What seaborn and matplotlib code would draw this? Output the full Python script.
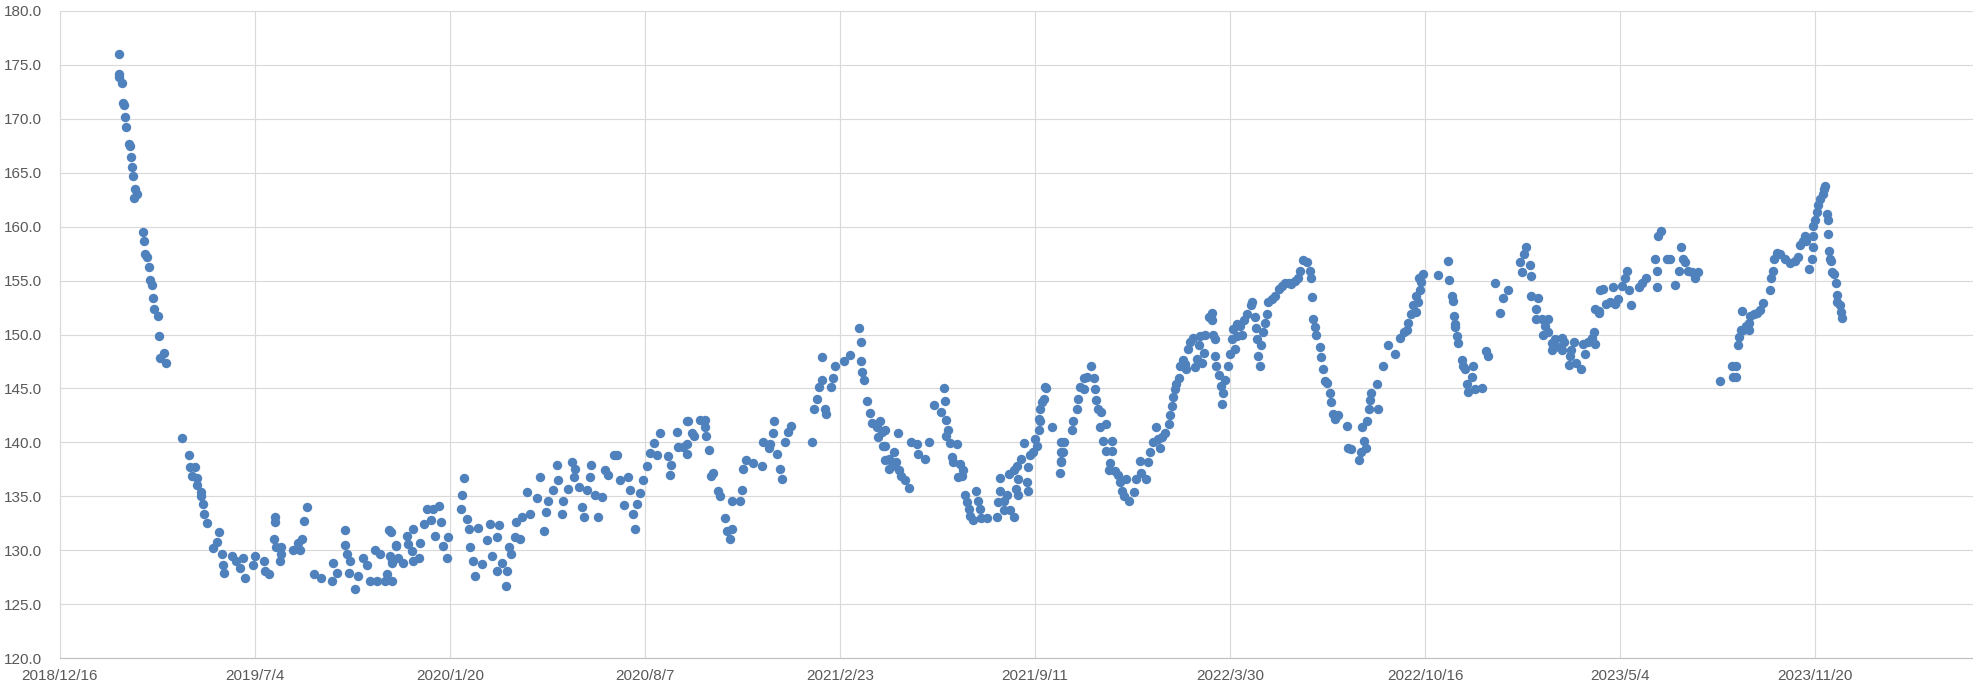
import matplotlib
matplotlib.use("Agg")
import matplotlib.pyplot as plt
import numpy as np
import pandas as pd
import seaborn as sns

START = pd.Timestamp("2018-12-16")

# x = days after 2018/12/16, y = value
days_2019a = [60, 61, 60, 64, 65, 66, 67, 68, 71, 72, 73, 74, 75, 77, 79, 76,
              85, 86, 87, 89, 91, 92, 94, 95, 96, 100, 102, 107, 103, 109]
vals_2019a = [176.0, 174.2, 173.9, 173.3, 171.5, 171.3, 170.2, 169.2, 167.7, 167.5,
              166.5, 165.5, 164.7, 163.5, 163.0, 162.7, 159.5, 158.7, 157.5, 157.2,
              156.3, 155.1, 154.6, 153.4, 152.4, 151.7, 149.9, 148.3, 147.8, 147.4]

days_2019b = [125, 132, 133, 138, 135, 140, 140, 145, 145, 147, 148, 151, 163, 161,
              157, 166, 167, 168, 176, 180, 188, 185, 190, 200, 198, 209, 210, 214,
              219, 221, 220, 222, 227, 226, 227, 239, 244, 248, 250, 253, 246, 260,
              268, 280, 279, 284, 292, 292, 294, 297, 296, 303, 306, 311, 315, 318,
              323, 328, 325, 333, 337, 338, 340, 335, 345, 347]
vals_2019b = [140.4, 138.8, 137.7, 137.7, 136.9, 136.7, 136.0, 135.4, 135.0, 134.3,
              133.4, 132.5, 131.7, 130.8, 130.2, 129.6, 128.6, 127.9, 129.5, 129.0,
              129.3, 128.3, 127.4, 129.5, 128.6, 129.0, 128.1, 127.8, 131.0, 133.1,
              132.6, 130.3, 130.3, 129.0, 129.6, 130.0, 130.7, 131.0, 132.7, 134.0,
              130.0, 127.8, 127.4, 128.8, 127.1, 127.9, 131.9, 130.5, 129.6, 129.0,
              127.9, 126.4, 127.6, 129.3, 128.6, 127.1, 130.0, 129.6, 127.1, 127.1,
              131.9, 129.5, 129.0, 127.8, 130.5, 129.3]

days_2020 = [339, 340, 340, 345, 352, 356, 357, 361, 362, 362, 368, 369, 373, 376,
             380, 383, 385, 389, 391, 393, 397, 398, 414, 412, 411, 417, 419, 421,
             426, 424, 429, 433, 438, 441, 443, 448, 450, 448, 453, 457, 458, 460,
             463, 467, 468, 472, 474, 479, 482, 489, 492, 496, 498, 501, 506, 510,
             511, 515, 516, 521, 525, 527, 528, 532, 535, 537, 540, 544, 545, 549,
             552, 556, 559, 562, 568, 571, 574, 578, 583, 585, 588, 590, 592, 595,
             598, 602, 605, 609, 615, 612, 626, 624, 627, 633, 634, 639, 643]
vals_2020 = [131.7, 128.8, 127.1, 130.4, 128.8, 131.3, 130.6, 129.9, 132.0, 129.0,
             129.3, 130.7, 132.4, 133.8, 132.8, 133.8, 131.3, 134.1, 132.6, 130.4,
             129.3, 131.2, 136.7, 135.1, 133.8, 132.9, 132.0, 130.3, 127.6, 129.0,
             132.1, 128.7, 130.9, 132.4, 129.5, 131.2, 132.3, 128.1, 128.8, 126.7,
             128.1, 130.3, 129.6, 131.2, 132.6, 131.0, 133.1, 135.4, 133.4, 134.8,
             136.8, 131.8, 133.5, 134.6, 135.6, 137.9, 136.5, 133.4, 134.6, 135.7,
             138.2, 136.8, 137.5, 135.9, 134.0, 133.1, 135.6, 136.8, 137.9, 135.1,
             133.1, 134.9, 137.4, 137.0, 138.8, 138.8, 136.5, 134.2, 136.8, 135.6,
             133.4, 132.0, 134.3, 135.3, 136.5, 137.8, 139.0, 139.9, 140.9, 138.8,
             137.0, 138.7, 137.9, 141.0, 139.6, 139.6, 142.0]

days_2021a = [644, 643, 643, 648, 650, 656, 662, 662, 663, 666, 668, 670, 675, 677,
              682, 684, 687, 689, 689, 697, 699, 700, 704, 711, 720, 721, 728, 727,
              732, 731, 735, 738, 740, 744, 747, 750, 771, 773, 776, 778, 781, 781,
              785, 786, 791, 793, 795, 804, 810, 819, 821, 822, 823, 825, 828, 831,
              833, 838, 841, 843, 839, 844, 846, 850]
vals_2021a = [142.0, 139.8, 138.9, 140.9, 140.6, 142.1, 142.1, 141.4, 140.6, 139.3,
              136.9, 137.2, 135.5, 135.0, 133.0, 131.8, 131.0, 132.0, 134.6, 134.6,
              135.6, 137.5, 138.4, 138.1, 137.8, 140.0, 139.8, 139.5, 142.0, 140.9,
              138.9, 137.5, 136.6, 140.0, 141.0, 141.5, 140.0, 143.1, 144.0, 145.1,
              145.8, 147.9, 143.1, 142.6, 145.1, 146.0, 147.1, 147.5, 148.1, 150.6,
              149.3, 147.5, 146.5, 145.8, 143.8, 142.7, 141.8, 141.4, 142.0, 141.0,
              140.5, 139.7, 138.4, 137.5]

days_2021b = [846, 846, 850, 853, 855, 857, 860, 863, 867, 871, 859, 873, 879, 880,
              887, 891, 896, 904, 907, 908, 909, 911, 909, 913, 920, 915, 916, 923,
              926, 925, 921, 928, 930, 932, 933, 936, 939, 941, 944, 945, 951, 961,
              962, 964, 964, 968, 968, 971, 973, 974, 978, 978, 980, 981, 983, 983,
              986, 989, 992, 993, 993, 995, 998, 1000, 1002, 1004, 1004, 1005, 1005,
              1007, 1009, 1010, 1011, 1017, 1027, 1027, 1027, 1026]
vals_2021b = [141.1, 139.7, 138.5, 137.8, 139.1, 138.2, 137.4, 136.9, 136.5, 135.8,
              140.9, 140.0, 139.8, 138.9, 138.5, 140.0, 143.5, 142.8, 145.0, 143.8,
              142.1, 141.1, 140.6, 139.9, 139.8, 138.6, 138.2, 138.0, 137.4, 136.9,
              136.8, 135.1, 134.5, 133.8, 133.2, 132.8, 135.5, 134.6, 133.8, 133.0,
              133.0, 133.1, 134.5, 135.5, 136.7, 134.6, 133.7, 135.1, 137.1, 133.7,
              133.1, 137.4, 135.7, 137.8, 136.6, 135.1, 138.5, 139.9, 136.3, 135.5,
              137.7, 138.8, 139.1, 140.3, 139.7, 141.1, 142.2, 142.0, 143.1, 143.7,
              144.0, 145.1, 145.0, 141.4, 140.0, 139.1, 138.2, 137.2]

days_2022a = [1027, 1029, 1030, 1038, 1039, 1043, 1044, 1046, 1050, 1050, 1053, 1057,
              1060, 1061, 1063, 1065, 1068, 1067, 1073, 1070, 1079, 1079, 1073, 1077,
              1076, 1082, 1085, 1087, 1089, 1091, 1093, 1096, 1102, 1104, 1108, 1109,
              1114, 1116, 1118, 1121, 1124, 1126, 1128, 1130, 1133, 1137, 1138, 1140,
              1142, 1144, 1145, 1148, 1149, 1152, 1154, 1155, 1157, 1159, 1162, 1164,
              1166, 1168, 1169, 1171, 1173, 1174, 1178, 1181, 1182, 1183, 1185, 1185,
              1186, 1189, 1191, 1193, 1192, 1195, 1198, 1200, 1202, 1203, 1207]
vals_2022a = [138.3, 139.1, 140.0, 141.1, 142.0, 143.1, 144.0, 145.1, 144.9, 146.0,
              146.1, 147.1, 146.0, 144.9, 143.9, 143.1, 142.8, 141.4, 141.7, 140.1,
              140.1, 139.2, 139.2, 138.1, 137.4, 137.3, 137.0, 136.3, 135.5, 135.0,
              136.6, 134.6, 135.4, 136.6, 138.3, 137.2, 136.6, 138.2, 139.1, 140.0,
              141.4, 140.3, 139.5, 140.5, 140.9, 141.7, 142.5, 143.4, 144.2, 144.9,
              145.4, 146.0, 147.1, 147.6, 147.3, 146.8, 148.7, 149.3, 149.7, 147.0,
              147.7, 149.0, 149.9, 147.4, 148.3, 150.0, 151.6, 152.0, 151.3, 150.0,
              149.6, 148.0, 147.1, 146.2, 145.2, 144.6, 143.6, 145.8, 147.1, 148.2,
              149.6, 150.5, 151.0]

days_2022b = [1205, 1207, 1210, 1214, 1212, 1217, 1221, 1223, 1226, 1227, 1228, 1229,
              1231, 1232, 1234, 1236, 1238, 1239, 1243, 1246, 1250, 1253, 1256, 1260,
              1263, 1267, 1270, 1272, 1275, 1279, 1282, 1283, 1284, 1285, 1287, 1288,
              1292, 1293, 1295, 1297, 1299, 1303, 1304, 1306, 1308, 1311, 1320, 1321,
              1324, 1332, 1334, 1337, 1339, 1335, 1340, 1342, 1344, 1345, 1352, 1351,
              1357, 1362, 1369, 1374, 1378, 1381, 1383, 1386, 1388, 1391, 1394]
vals_2022b = [148.7, 149.9, 150.8, 151.3, 150.0, 151.9, 152.7, 153.0, 151.6, 150.6,
              149.6, 148.0, 147.1, 149.0, 150.2, 151.1, 151.9, 153.0, 153.3, 153.6,
              154.2, 154.5, 154.8, 154.8, 154.7, 155.0, 155.2, 155.9, 156.9, 156.7,
              155.9, 155.2, 153.5, 151.4, 150.7, 150.0, 148.8, 147.9, 146.8, 145.7,
              145.5, 144.6, 143.7, 142.6, 142.2, 142.5, 141.5, 139.5, 139.4, 138.4,
              139.1, 140.1, 139.5, 141.4, 142.0, 143.1, 143.9, 144.6, 143.1, 145.4,
              147.1, 149.0, 148.2, 149.7, 150.2, 150.4, 151.1, 151.9, 152.7, 153.6,
              155.2]

days_2023a = [1391, 1393, 1395, 1396, 1398, 1413, 1424, 1425, 1428, 1429, 1430, 1431,
              1431, 1433, 1434, 1438, 1439, 1441, 1443, 1444, 1449, 1448, 1451, 1458,
              1463, 1465, 1472, 1477, 1480, 1485, 1497, 1499, 1501, 1504, 1508, 1509,
              1509, 1516, 1514, 1514, 1520, 1523, 1526, 1521, 1526, 1530, 1533, 1537,
              1540, 1542, 1540, 1530, 1549, 1550, 1553, 1548, 1555, 1560, 1562, 1564,
              1567, 1571, 1573, 1574, 1578, 1579]
vals_2023a = [152.1, 153.0, 154.1, 154.9, 155.6, 155.5, 156.8, 155.1, 153.6, 153.1,
              151.7, 151.0, 150.7, 149.9, 149.2, 147.6, 147.1, 146.8, 145.4, 144.7,
              147.1, 146.1, 144.9, 145.0, 148.5, 148.0, 154.8, 152.0, 153.4, 154.1,
              156.7, 155.8, 157.5, 158.1, 156.4, 155.4, 153.6, 153.4, 152.4, 151.4,
              151.4, 150.8, 151.4, 150.0, 150.2, 149.2, 149.6, 148.8, 149.7, 149.3,
              148.6, 148.6, 148.0, 148.6, 149.3, 147.2, 147.4, 146.8, 149.1, 148.2,
              149.3, 149.7, 150.2, 152.4, 152.2, 154.1]

days_2023b = [1574, 1578, 1583, 1586, 1590, 1593, 1595, 1598, 1602, 1605, 1607, 1609,
              1611, 1619, 1622, 1627, 1638, 1636, 1638, 1639, 1642, 1648, 1651, 1656,
              1660, 1663, 1665, 1667, 1670, 1674, 1677, 1680]
vals_2023b = [149.1, 152.0, 154.2, 152.8, 153.0, 154.4, 152.8, 153.3, 154.5, 155.2,
              155.9, 154.1, 152.7, 154.4, 154.8, 155.2, 154.4, 157.0, 155.9, 159.1,
              159.6, 157.0, 157.0, 154.6, 155.9, 158.1, 157.0, 156.7, 155.9, 155.8,
              155.2, 155.8]

days_2023c = [1703, 1715, 1719, 1716, 1719, 1721, 1722, 1725, 1724, 1726, 1729, 1732,
              1732, 1733, 1737, 1740, 1744, 1747, 1754, 1755, 1757, 1758, 1761, 1764,
              1769, 1774, 1779, 1783, 1785, 1788, 1790, 1791, 1794, 1797, 1798, 1798,
              1798, 1800, 1802, 1803, 1805, 1808, 1809, 1810, 1812, 1813, 1813, 1814,
              1815, 1816, 1817, 1819, 1821, 1822, 1823, 1826, 1827, 1828]
vals_2023c = [145.7, 147.1, 147.1, 146.1, 146.1, 149.0, 149.8, 152.2, 150.4, 150.4,
              150.8, 151.1, 150.4, 151.7, 151.9, 152.0, 152.3, 152.9, 154.1, 155.2,
              155.9, 157.0, 157.6, 157.5, 157.0, 156.6, 156.8, 157.2, 158.3, 158.7,
              159.1, 158.7, 156.1, 157.0, 158.1, 159.1, 160.1, 160.6, 161.4, 162.0,
              162.6, 163.0, 163.5, 163.8, 161.2, 160.6, 159.3, 157.7, 157.0, 156.8,
              155.8, 155.6, 154.8, 153.7, 153.0, 152.7, 152.1, 151.5]

segments = [
    (days_2019a, vals_2019a), (days_2019b, vals_2019b), (days_2020, vals_2020),
    (days_2021a, vals_2021a), (days_2021b, vals_2021b), (days_2022a, vals_2022a),
    (days_2022b, vals_2022b), (days_2023a, vals_2023a), (days_2023b, vals_2023b),
    (days_2023c, vals_2023c),
]
df = pd.concat([pd.DataFrame({"day": d, "value": v}) for d, v in segments],
               ignore_index=True)
df["date"] = START + pd.to_timedelta(df["day"], unit="D")

sns.set_style("white")
plt.rcParams["font.family"] = ["Liberation Sans", "DejaVu Sans"]

fig = plt.figure(figsize=(19.74, 6.97), dpi=100)
ax = fig.add_axes([60 / 1974, 39 / 697, 1914 / 1974, 647 / 697])
sns.scatterplot(data=df, x="date", y="value", ax=ax, color="#4F81BD",
                s=46, linewidth=0, zorder=3)

ticks = pd.date_range(START, periods=11, freq="200D")
ax.set_xticks(ticks)
ax.set_xticklabels([f"{d.year}/{d.month}/{d.day}" for d in ticks])
ax.set_xlim(START, START + pd.Timedelta(days=1963))

yticks = np.arange(120, 181, 5)
ax.set_ylim(120, 180)
ax.set_yticks(yticks)
ax.set_yticklabels([f"{v:.1f}" for v in yticks])

ax.grid(True, color="#D9D9D9", linewidth=0.8)
ax.set_axisbelow(True)
ax.tick_params(axis="both", length=0, labelsize=11, colors="#595959")
ax.tick_params(axis="y", pad=13)
ax.tick_params(axis="x", pad=8)
ax.set_xlabel("")
ax.set_ylabel("")
for side in ["top", "right"]:
    ax.spines[side].set_visible(False)
ax.spines["left"].set_color("#D9D9D9")
ax.spines["bottom"].set_color("#BFBFBF")

fig.savefig("out.png", dpi=100)
